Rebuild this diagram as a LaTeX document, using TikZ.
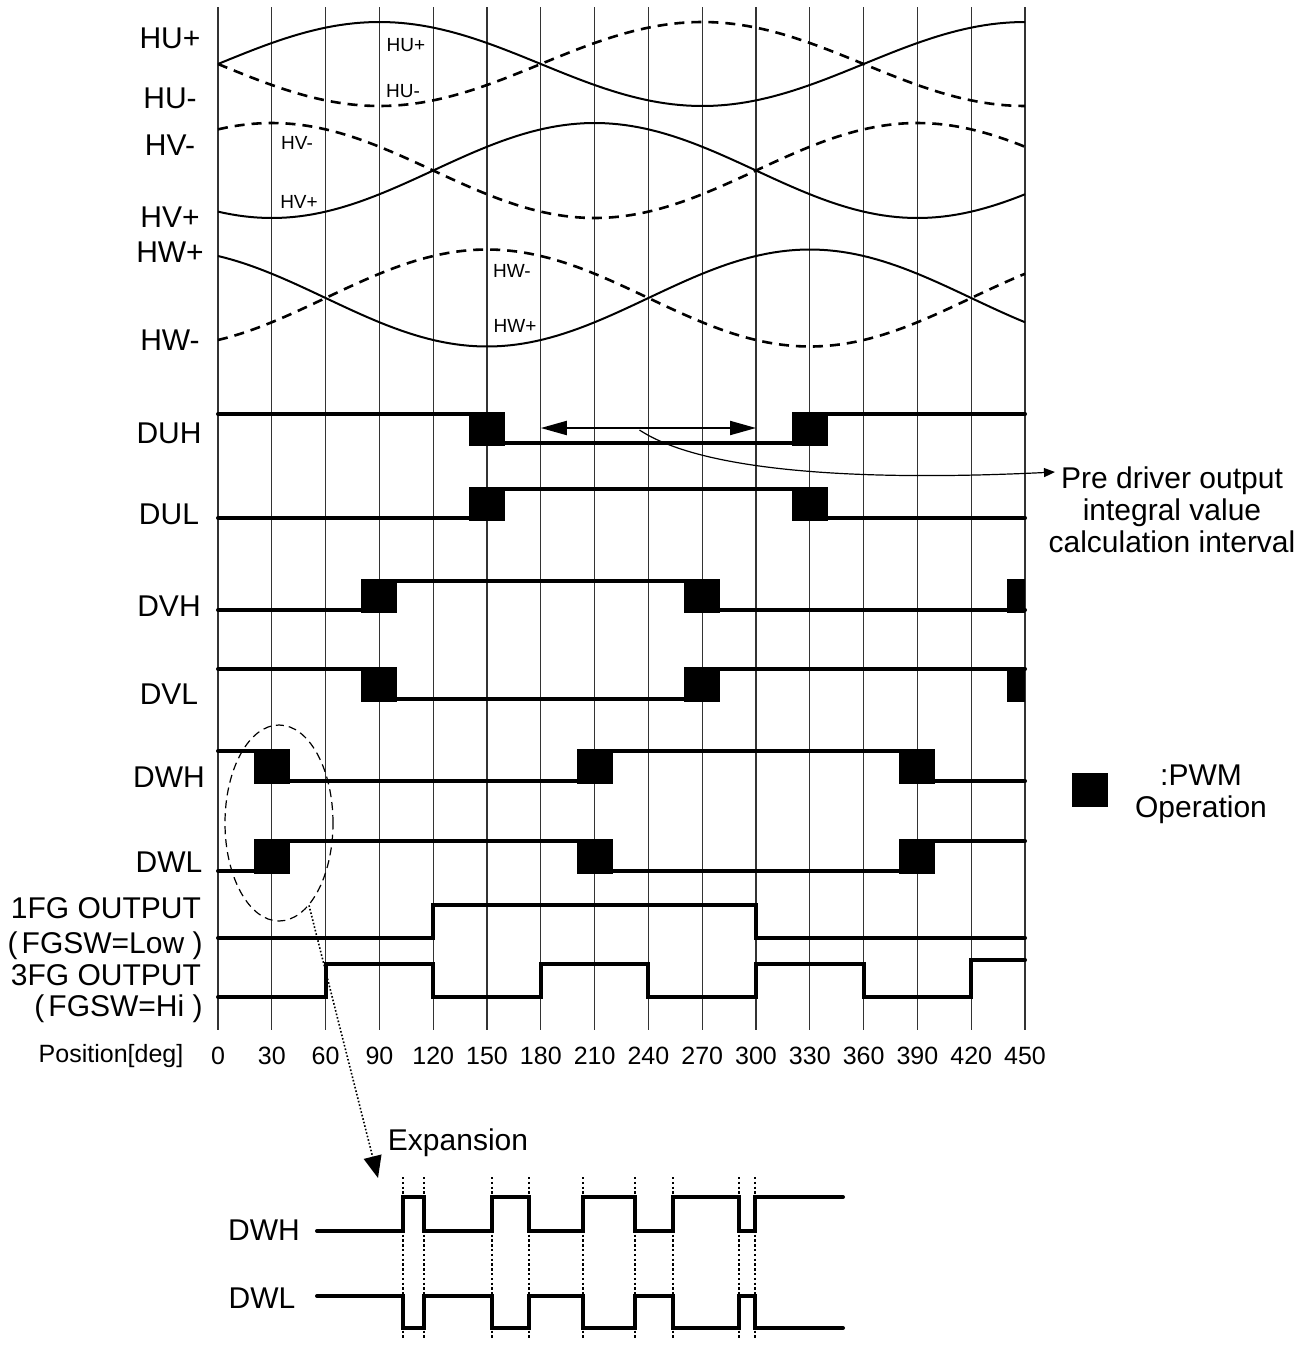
\documentclass[tikz,border=0pt]{standalone}
\usepackage{fontspec}
\setmainfont{Liberation Sans}
\usetikzlibrary{arrows.meta,positioning,shapes.geometric}

\newcommand{\lpar}{(\kern2pt}
\newcommand{\rpar}{)}

\tikzset{
    lbl/.style={font=\fontsize{15}{16}\selectfont},
    tag/.style={font=\fontsize{9.5}{10}\selectfont},
    num/.style={font=\fontsize{12.5}{14}\selectfont},
    grid line/.style={line width=0.6pt, black!80},
    hallp/.style={line width=1pt},
    halln/.style={line width=1.3pt, dash pattern=on 5pt off 3.5pt},
    sig/.style={line width=2pt, line cap=round},
    tick/.style={line width=0.6pt, dash pattern=on 1.2pt off 1.2pt},
}

\begin{document}
\begin{tikzpicture}[x=0.5pt, y=-0.5pt]
    \useasboundingbox (0,0) rectangle (1314,1345);

    % hall sensor names
    \foreach \t/\m/\y in {HU+/hup/38, HU-/hum/98, HV-/hvm/145, HV+/hvp/217, HW+/hwp/252, HW-/hwm/340}
        \node[lbl] (\m) at (170,\y) {\t};
    \foreach \t/\m/\x/\y in {HU+/thup/406/45, HU-/thum/403/91, HV-/thvm/297/143, HV+/thvp/299/202, HW-/thwm/512/271, HW+/thwp/515/326}
        \node[tag] (\m) at (\x,\y) {\t};

    % driver outputs
    \foreach \n/\y in {DUH/433, DUL/514, DVH/606, DVL/694, DWH/777, DWL/862}
        \node[lbl] (\n) at (169,\y) {\n};
    \node[lbl, anchor=east] (fg1) at (208,908) {1FG OUTPUT};
    \node[lbl, anchor=east, inner sep=0] (fg1sw) at (203,946) {\lpar FGSW=Low \rpar};
    \node[lbl, anchor=east] (fg3) at (208,975) {3FG OUTPUT};
    \node[lbl, anchor=east, inner sep=0] (fg3sw) at (203,1009) {\lpar FGSW=Hi \rpar};
    \node[num] (pos) at (111,1056) {Position[deg]};

    \begin{scope}[shift={(218,0)}, x=0.8967pt]
        \foreach \d in {0,30,...,450} {
            \draw[grid line] (\d,7) -- (\d,1030);
            \node[num] (p\d) at (\d,1056) {\d};
        }
        % hall signals
        \draw[hallp] plot[domain=0:450, samples=120] (\x, {64-42*sin(\x)});
        \draw[halln] plot[domain=0:450, samples=120] (\x, {64+42*sin(\x)});
        \draw[hallp] plot[domain=0:450, samples=120] (\x, {170.5+47.5*sin(\x+60)});
        \draw[halln] plot[domain=0:450, samples=120] (\x, {170.5-47.5*sin(\x+60)});
        \draw[hallp] plot[domain=0:450, samples=120] (\x, {298-48.5*sin(\x+120)});
        \draw[halln] plot[domain=0:450, samples=120] (\x, {298+48.5*sin(\x+120)});

        % pre driver outputs
        \draw[sig] (0,414) -| (150,443) -| (330,414) -- (450,414);
        \draw[sig] (0,518) -| (150,489) -| (330,518) -- (450,518);
        \draw[sig] (0,610) -| (90,581) -| (270,610) -- (450,610);
        \draw[sig] (0,669) -| (90,699) -| (270,669) -- (450,669);
        \draw[sig] (0,751) -| (30,781) -| (210,751) -| (390,781) -- (450,781);
        \draw[sig] (0,871) -| (30,841) -| (210,871) -| (390,841) -- (450,841);
        \foreach \a/\b/\h/\l in {140/160/414/443, 320/340/414/443, 140/160/489/518, 320/340/489/518,
                80/100/581/610, 260/280/581/610, 440/450/581/610,
                80/100/669/699, 260/280/669/699, 440/450/669/699,
                20/40/751/781, 200/220/751/781, 380/400/751/781,
                20/40/841/871, 200/220/841/871, 380/400/841/871}
            \fill (\a,\h-2.5) rectangle (\b,\l+2.5);

        % FG outputs
        \draw[sig] (0,938) -| (120,905) -| (300,938) -- (450,938);
        \draw[sig] (0,997) -| (60,964) -| (120,997) -| (180,964) -| (240,997) -| (300,964) -| (360,997) -| (420,960) -- (450,960);

        \coordinate (ivA) at (180,428);
        \coordinate (ivB) at (300,428);
        \coordinate (ivMid) at (235,430);
    \end{scope}

    \draw[line width=1pt, {Triangle[length=13pt,width=7pt]}-{Triangle[length=13pt,width=7pt]}] (ivA) -- (ivB);
    \node[lbl, align=center] (predrv) at (1172,510) {Pre driver output\\integral value\\calculation interval};
    \coordinate (pdtip) at (1055,472);
    \draw[line width=0.6pt, -{Triangle[length=5.5pt,width=4.5pt]}] (ivMid) .. controls (700,470) and (850,482) .. (pdtip);

    % legend
    \node[fill=black, inner sep=0, minimum width=18pt, minimum height=17pt] (pwmkey) at (1090,790) {};
    \node[lbl, align=center] (pwmtxt) at (1201,794) {:PWM\\Operation};

    % expansion
    \node[ellipse, draw, line width=0.6pt, dash pattern=on 4pt off 2.5pt, inner sep=0,
          minimum width=54pt, minimum height=98pt] (ring) at (279,823) {};
    \coordinate (expTip) at (378,1178);
    \draw[line width=0.8pt, densely dotted, -{Triangle[length=11pt,width=9pt]}] (ring.-70) -- (expTip);
    \node[lbl] (expn) at (458,1143) {Expansion};
    \node[lbl] (xdwh) at (264,1230) {DWH};
    \node[lbl] (xdwl) at (262,1298) {DWL};
    \foreach \x in {403,424,492,529,583,635,673,739,755}
        \draw[tick] (\x,1177) -- (\x,1340);
    \draw[sig] (317,1231) -| (403,1197) -| (424,1231) -| (492,1197) -| (529,1231) -| (583,1197) -| (635,1231) -| (673,1197) -| (739,1231) -| (755,1197) -- (843,1197);
    \draw[sig] (317,1296) -| (403,1328) -| (424,1296) -| (492,1328) -| (529,1296) -| (583,1328) -| (635,1296) -| (673,1328) -| (739,1296) -| (755,1328) -- (843,1328);
\end{tikzpicture}
\end{document}
